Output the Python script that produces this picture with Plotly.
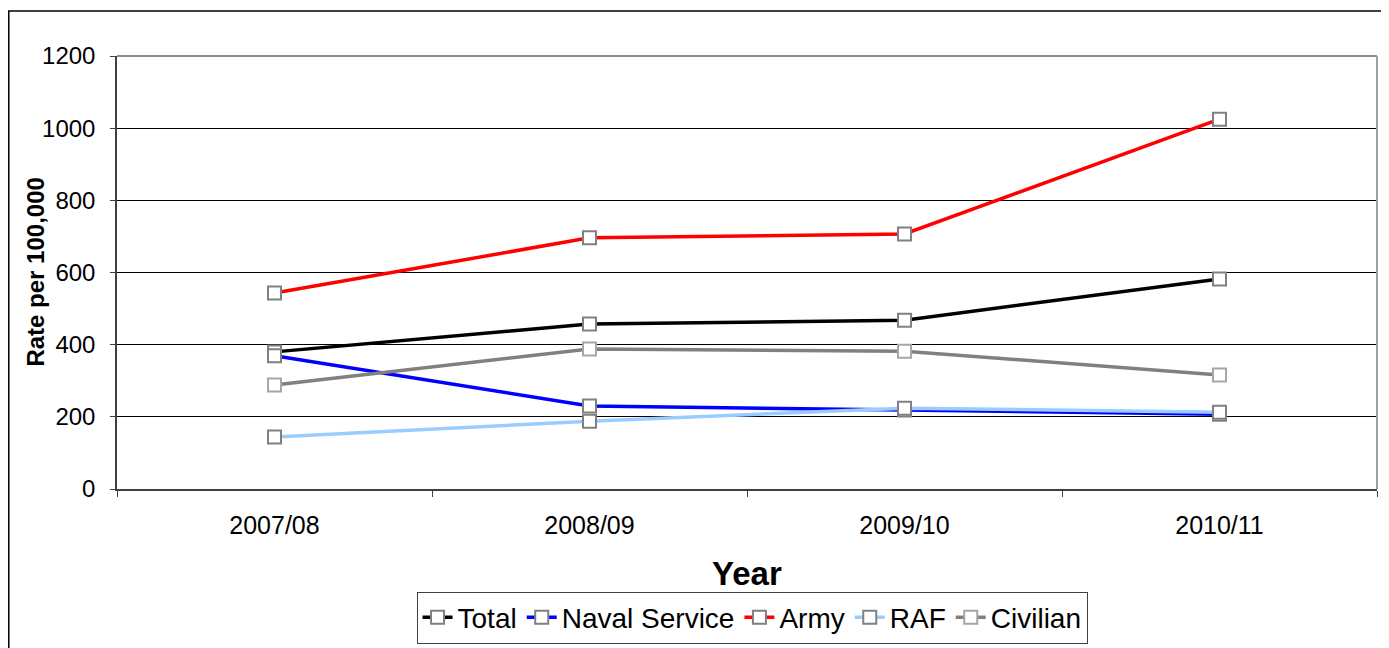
import plotly.graph_objects as go

years = ["2007/08", "2008/09", "2009/10", "2010/11"]
total = [380, 457, 468, 582]
naval = [369, 230, 219, 207]
army = [543, 696, 707, 1025]
raf = [144, 188, 224, 213]
civilian = [288, 388, 382, 316]

series = [
    ("Total", total, "#000000", "#808080"),
    ("Naval Service", naval, "#0000ff", "#808080"),
    ("Army", army, "#ff0000", "#808080"),
    ("RAF", raf, "#99ccff", "#808080"),
    ("Civilian", civilian, "#808080", "#a6a6a6"),
]

fig = go.Figure()
for name, vals, col, mcol in series:
    fig.add_trace(go.Scatter(
        x=years, y=vals, name=name, mode="lines+markers",
        line=dict(color=col, width=3.5),
        marker=dict(symbol="square", size=13, color="white",
                    line=dict(color=mcol, width=2)),
    ))

# page body has an 8px margin, so the figure is 8px smaller each way
fig.update_layout(
    width=1381, height=640,
    margin=dict(l=109, r=12, t=48, b=159, autoexpand=False),
    paper_bgcolor="white", plot_bgcolor="white",
    font=dict(family="Arial, Liberation Sans", color="black"),
    showlegend=True,
    legend=dict(
        orientation="h", x=0.504, xanchor="center", y=-0.237, yanchor="top",
        font=dict(size=28), bordercolor="#404040", borderwidth=1,
        itemwidth=30, tracegroupgap=0,
    ),
    xaxis=dict(
        type="category", range=[-0.5, 3.5], tickson="boundaries",
        ticks="outside", ticklen=6, tickcolor="#404040",
        showline=True, linecolor="#404040", linewidth=1.5,
        showgrid=False, tickfont=dict(size=25), ticklabelstandoff=13,
    ),
    yaxis=dict(
        range=[0, 1200], dtick=200, ticks="outside", ticklen=5,
        tickcolor="#404040", showline=True, linecolor="#404040",
        linewidth=1.5, showgrid=True, gridcolor="#000000", gridwidth=1,
        zeroline=False, tickfont=dict(size=24), ticklabelstandoff=10,
    ),
    shapes=[
        dict(type="line", xref="paper", yref="paper", x0=0, x1=1, y0=1, y1=1,
             line=dict(color="#8c8c8c", width=2)),
        dict(type="line", xref="paper", yref="paper", x0=1, x1=1, y0=0, y1=1,
             line=dict(color="#a0a0a0", width=2)),
        dict(type="rect", xref="paper", yref="paper",
             x0=-0.0859, x1=1.0056, y0=-0.39, y1=1.1039,
             line=dict(color="black", width=1.5)),
    ],
    annotations=[
        dict(text="<b>Year</b>", xref="paper", yref="paper", x=0.5, y=-0.196,
             xanchor="center", yanchor="middle", showarrow=False,
             font=dict(size=33)),
        dict(text="<b>Rate per 100,000</b>", xref="paper", yref="paper",
             x=-0.065, y=0.5, xanchor="center", yanchor="middle",
             textangle=-90, showarrow=False, font=dict(size=24)),
    ],
)

fig.write_html("out.html")
